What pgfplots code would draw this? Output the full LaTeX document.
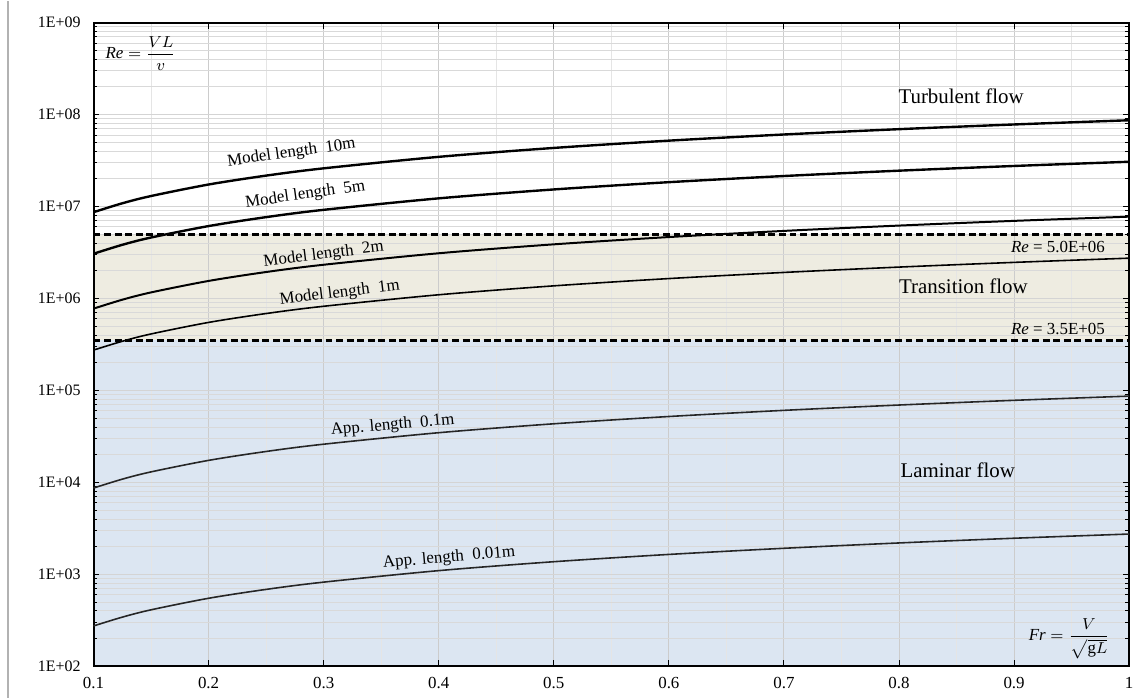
\documentclass[border=0pt]{standalone}
\usepackage{fontspec}
\setmainfont{Liberation Serif}
\usepackage{amsmath}
\usepackage{pgfplots}
\pgfplotsset{compat=1.18}
\usepackage{pgfplotstable}
\definecolor{tanbg}{HTML}{EEECE1}
\definecolor{bluebg}{HTML}{DCE6F2}

% Re against Fr for the six lengths
\pgfplotstableread{
Fr    L10      L5       L2       L1       L01      L001
0.1   8.69e6   3.07e6   7.77e5   2.75e5   8.69e3   275
0.125 1.086e7  3.84e6   9.71e5   3.43e5   1.086e4  343
0.15  1.303e7  4.61e6   1.166e6  4.12e5   1.303e4  412
0.2   1.738e7  6.14e6   1.554e6  5.50e5   1.738e4  550
0.25  2.172e7  7.68e6   1.943e6  6.87e5   2.172e4  687
0.3   2.606e7  9.22e6   2.331e6  8.24e5   2.606e4  824
0.4   3.475e7  1.229e7  3.108e6  1.099e6  3.475e4  1099
0.5   4.344e7  1.536e7  3.886e6  1.374e6  4.344e4  1374
0.6   5.213e7  1.843e7  4.663e6  1.649e6  5.213e4  1649
0.7   6.082e7  2.150e7  5.440e6  1.923e6  6.082e4  1923
0.8   6.950e7  2.458e7  6.217e6  2.198e6  6.950e4  2198
0.9   7.819e7  2.765e7  6.994e6  2.473e6  7.819e4  2473
1.0   8.688e7  3.072e7  7.771e6  2.748e6  8.688e4  2748
}\retable

\begin{document}
\begin{tikzpicture}
\begin{axis}[
    name=ax,
    set layers=standard,
    scale only axis,
    width=520.5pt, height=323.5pt,
    ymode=log,
    xmin=0.1, xmax=1, ymin=1e2, ymax=1e9,
    xtick={0.1,0.2,...,1.0},
    xticklabels={0.1,0.2,0.3,0.4,0.5,0.6,0.7,0.8,0.9,1},
    minor x tick num=1,
    ytick={1e2,1e3,1e4,1e5,1e6,1e7,1e8,1e9},
    yticklabels={1E+02,1E+03,1E+04,1E+05,1E+06,1E+07,1E+08,1E+09},
    tick align=inside,
    major tick length=3pt, minor tick length=2pt,
    minor x tick style={draw=none},
    grid=both,
    major x grid style={color=black!20, line width=0.5pt},
    minor x grid style={color=black!10, line width=0.5pt},
    major y grid style={color=black!17, line width=0.5pt},
    minor y grid style={color=black!15, line width=0.5pt},
    axis line style={line width=1pt},
    tick style={black, line width=0.5pt},
    yticklabel style={font=\fontsize{8}{9}\selectfont, xshift=-3pt},
    xticklabel style={font=\fontsize{8.5}{10}\selectfont, yshift=-2pt},
    clip=false,
  ]
  % flow regions
  \addplot[on layer=axis background, fill=bluebg, draw=none]
    coordinates {(0.1,1e2) (1,1e2) (1,3.5e5) (0.1,3.5e5)} -- cycle;
  \addplot[on layer=axis background, fill=tanbg, draw=none]
    coordinates {(0.1,3.5e5) (1,3.5e5) (1,5e6) (0.1,5e6)} -- cycle;

  % limits
  \addplot[black, line width=1.3pt, dash pattern=on 3.5pt off 1.8pt]
    coordinates {(0.1,5e6) (1,5e6)};
  \addplot[black, line width=1.3pt, dash pattern=on 3.5pt off 1.8pt]
    coordinates {(0.1,3.5e5) (1,3.5e5)};

  % curves
  \addplot[black, line width=1.2pt, smooth] table[x=Fr, y=L10] {\retable};
  \addplot[black, line width=1.2pt, smooth] table[x=Fr, y=L5] {\retable};
  \addplot[black, line width=1pt, smooth] table[x=Fr, y=L2] {\retable};
  \addplot[black, line width=0.8pt, smooth] table[x=Fr, y=L1] {\retable};
  \addplot[black!85, line width=0.8pt, smooth] table[x=Fr, y=L01] {\retable};
  \addplot[black!85, line width=0.8pt, smooth] table[x=Fr, y=L001] {\retable};

  % labels
  \begin{scope}[font=\fontsize{8.5}{10}\selectfont]
    \node[rotate=8] at (axis cs:0.272,3.82e7) {Model length\ \ 10m};
    \node[rotate=8] at (axis cs:0.284,1.34e7) {Model length\ \ 5m};
    \node[rotate=7] at (axis cs:0.300,3.0e6) {Model length\ \ 2m};
    \node[rotate=7] at (axis cs:0.314,1.14e6) {Model length\ \ 1m};
    \node[rotate=5] at (axis cs:0.360,4.17e4) {App. length\ \ 0.1m};
    \node[rotate=5] at (axis cs:0.409,1.51e3) {App. length\ \ 0.01m};
    \node[anchor=east] at (axis cs:0.985,3.67e6) {\textit{Re} = 5.0E+06};
    \node[anchor=east] at (axis cs:0.985,4.64e5) {\textit{Re} = 3.5E+05};
  \end{scope}
  \begin{scope}[font=\fontsize{10.5}{12}\selectfont]
    \node at (axis cs:0.854,1.58e8) {Turbulent flow};
    \node at (axis cs:0.856,1.36e6) {Transition flow};
    \node at (axis cs:0.851,1.35e4) {Laminar flow};
  \end{scope}
  \node[font=\fontsize{8.5}{10}\selectfont] at (axis cs:0.141,4.6e8) {$\mathit{Re}=\dfrac{VL}{v}$};
  \node[font=\fontsize{8.5}{10}\selectfont] at (axis cs:0.948,200) {$\mathit{Fr}=\dfrac{V}{\sqrt{\mathrm{g}L}}$};
\end{axis}
\draw[black!30, line width=0.8pt] ([shift={(-43pt,11pt)}]ax.north west) -- ([shift={(-43pt,-16pt)}]ax.south west);
\path ([shift={(-47pt,-16pt)}]ax.south west) rectangle ([shift={(2.5pt,11pt)}]ax.north east);
\end{tikzpicture}
\end{document}
